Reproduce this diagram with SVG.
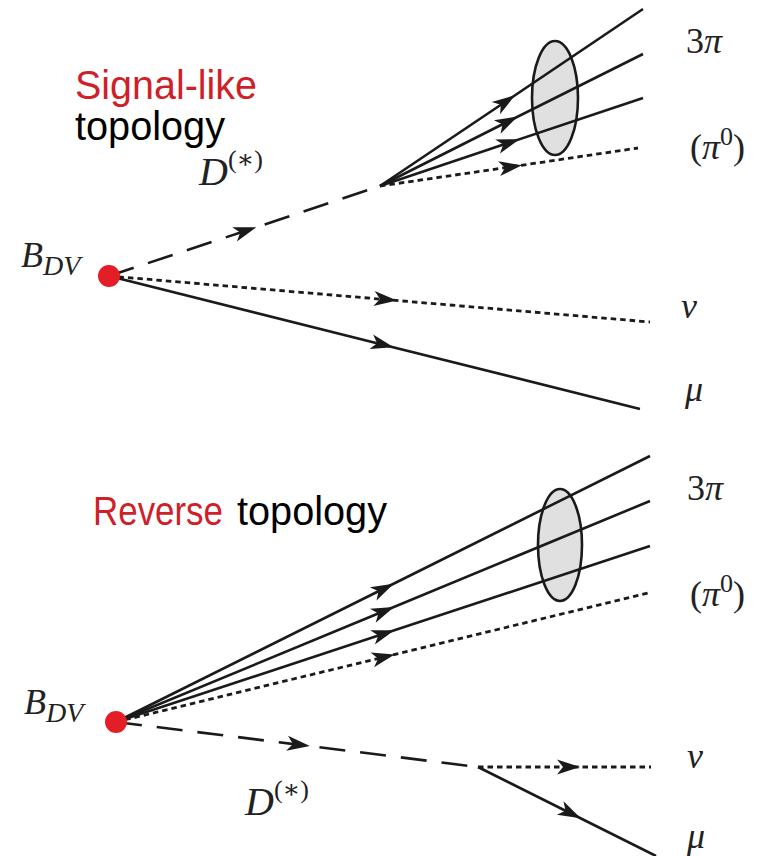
<svg xmlns="http://www.w3.org/2000/svg" width="770" height="856" viewBox="0 0 770 856">
<style>
.ln{fill:none;stroke:#1a1a1a;stroke-width:2.6;stroke-linecap:butt}
.dash{stroke-dasharray:26 15}
.dot{stroke-dasharray:5.5 4;stroke-width:2.8}
.arr{marker-mid:url(#ah)}
.vtx{fill:#e41e26}
.blob{fill:#e0e0e0;stroke:#1a1a1a;stroke-width:2.6}
.math{font-family:"Liberation Serif","DejaVu Serif",serif;fill:#222;font-size:36px}
.it{font-style:italic}
.title{font-family:"Liberation Sans","DejaVu Sans",sans-serif;font-size:40px}
.red{fill:#cf1f2b}
.blk{fill:#000}
</style>
<defs>
<marker id="ah" markerUnits="userSpaceOnUse" viewBox="-13 -9 26 18" refX="0" refY="0" markerWidth="26" markerHeight="18" orient="auto">
<path d="M12,0 L-11,-7.5 L-5,0 L-11,7.5 Z" fill="#1a1a1a"/>
</marker>
</defs>
<rect width="770" height="856" fill="#fff"/>

<g id="title-top">
<text class="title red" x="75" y="99" textLength="182" lengthAdjust="spacingAndGlyphs">Signal-like</text>
<text class="title blk" x="75" y="140" textLength="150" lengthAdjust="spacingAndGlyphs">topology</text>
</g>
<g id="title-bottom">
<text class="title" x="93" y="525"><tspan class="red" textLength="130" lengthAdjust="spacingAndGlyphs">Reverse</tspan><tspan class="blk" x="237" textLength="150" lengthAdjust="spacingAndGlyphs">topology</tspan></text>
</g>

<g id="blob-top"><ellipse class="blob" cx="555" cy="98" rx="23" ry="57"/></g>
<g id="blob-bottom"><ellipse class="blob" cx="560" cy="545" rx="22" ry="56"/></g>

<g id="connectors">
<path class="ln dash arr" d="M109,276 L245,231 L380,186"/>
<path class="ln arr" d="M380,186 L505,102 L643,9"/>
<path class="ln arr" d="M380,186 L507,122 L643,54"/>
<path class="ln arr" d="M380,186 L508,143 L643,98"/>
<path class="ln dot arr" d="M380,186 L510,167 L638,148"/>
<path class="ln dot arr" d="M109,276 L385,299.5 L650,322"/>
<path class="ln arr" d="M109,276 L382,344.4 L640,409"/>
<path class="ln arr" d="M116,722 L383,589 L650,456"/>
<path class="ln arr" d="M116,722 L383,611.5 L650,501"/>
<path class="ln arr" d="M116,722 L383,634 L650,546"/>
<path class="ln dot arr" d="M116,722 L383,657.3 L648,593"/>
<path class="ln dash arr" d="M116,722 L298,744.6 L478,767"/>
<path class="ln dot arr" d="M478,767 L568,767 L651,767"/>
<path class="ln arr" d="M478,767 L570,813 L656,856"/>
</g>

<g id="BDV-top">
<circle class="vtx" cx="109" cy="276" r="11"/>
<text class="math it" x="21" y="267" font-size="38">B<tspan font-size="28" y="275">DV</tspan></text>
</g>
<g id="BDV-bottom">
<circle class="vtx" cx="116" cy="722" r="11"/>
<text class="math it" x="24" y="714" font-size="38">B<tspan font-size="28" y="722">DV</tspan></text>
</g>

<g id="D-top"><text class="math" x="199" y="185"><tspan class="it" font-size="40">D</tspan><tspan font-size="26" y="168">(∗)</tspan></text></g>
<g id="D-bottom"><text class="math" x="245" y="815"><tspan class="it" font-size="40">D</tspan><tspan font-size="26" y="798">(∗)</tspan></text></g>

<g id="pi3-top"><text class="math" x="686" y="53">3<tspan class="it">π</tspan></text></g>
<g id="pi0-top"><text class="math" x="690" y="159" font-size="39">(<tspan class="it">π</tspan><tspan font-size="26" y="145">0</tspan><tspan y="159">)</tspan></text></g>
<g id="nu-top"><text class="math it" x="681" y="318" font-size="40">ν</text></g>
<g id="mu-top"><text class="math it" x="685" y="401" font-size="40">μ</text></g>

<g id="pi3-bottom"><text class="math" x="687" y="500">3<tspan class="it">π</tspan></text></g>
<g id="pi0-bottom"><text class="math" x="690" y="606" font-size="39">(<tspan class="it">π</tspan><tspan font-size="26" y="592">0</tspan><tspan y="606">)</tspan></text></g>
<g id="nu-bottom"><text class="math it" x="687" y="768" font-size="40">ν</text></g>
<g id="mu-bottom"><text class="math it" x="687" y="848" font-size="40">μ</text></g>
</svg>
